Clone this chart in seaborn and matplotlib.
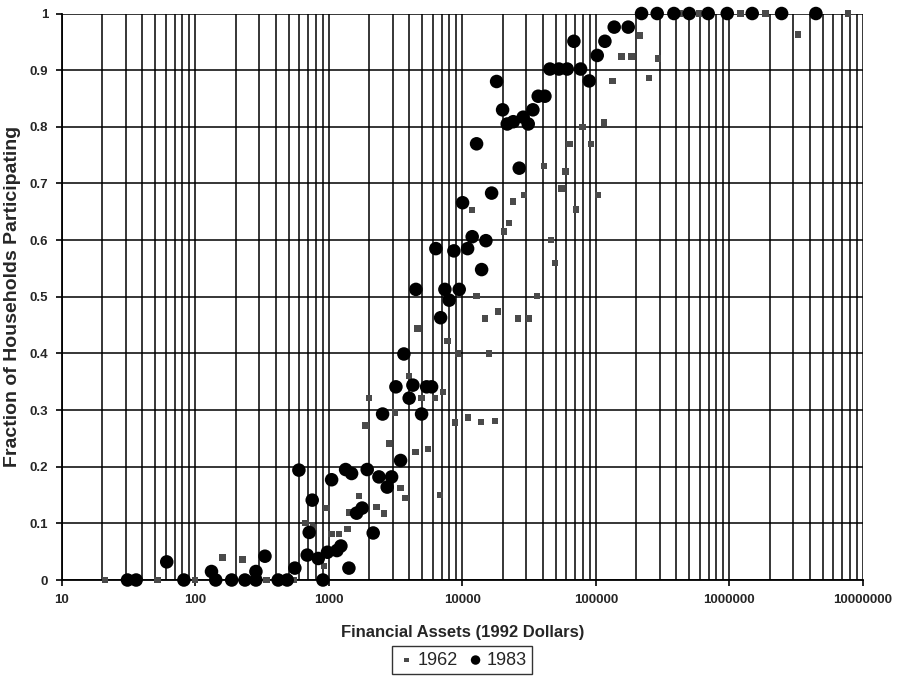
import matplotlib
matplotlib.use("Agg")
import matplotlib.pyplot as plt
import matplotlib.ticker as mticker
import seaborn as sns
import pandas as pd

# 1962 survey (small grey squares)
assets_1962 = [21, 52, 99, 160, 226, 341, 541, 667, 768, 918, 961, 1048, 1194, 1376, 1419,
               1687, 1876, 2004, 2277, 2596, 2830, 3120, 3443, 3754, 3992, 4460, 4617, 4946,
               5543, 6223, 6781, 7181, 7746, 8790, 9304, 11050, 11840, 12770, 13770, 14750,
               15880, 17500, 18540, 20460, 22430, 24030, 26180, 28890, 31490, 36310, 41000,
               46030, 49320, 55340, 59300, 63530, 70800, 79400, 91800, 104000, 114800, 133400,
               155900, 185000, 213700, 250700, 293000, 425800, 594000, 1213000, 1866000,
               3275000, 7762000]
frac_1962 = [0, 0, 0, 0.040, 0.036, 0, 0, 0.101, 0.094, 0.025, 0.127, 0.081, 0.081, 0.090, 0.119,
             0.148, 0.273, 0.321, 0.129, 0.117, 0.241, 0.296, 0.162, 0.145, 0.360, 0.226, 0.444, 0.321,
             0.231, 0.321, 0.150, 0.332, 0.422, 0.278, 0.400, 0.287, 0.653, 0.501, 0.279, 0.462,
             0.400, 0.281, 0.474, 0.615, 0.630, 0.668, 0.462, 0.680, 0.462, 0.501, 0.731,
             0.600, 0.560, 0.691, 0.721, 0.770, 0.654, 0.800, 0.770, 0.680, 0.808, 0.881,
             0.924, 0.924, 0.961, 0.886, 0.921, 1, 1, 1, 1,
             0.963, 1]

# 1983 survey (large black circles)
assets_1983 = [31, 36, 61, 82, 132, 142, 187, 235, 284, 284, 332, 417, 487, 556, 596, 688, 712,
               750, 832, 902, 975, 1048, 1148, 1230, 1412, 1334, 1479, 1612, 1775, 1936, 2147,
               2370, 2525, 2733, 2949, 3177, 3443, 3646, 3992, 4258, 4484, 4946, 5395, 5878,
               6327, 6869, 7396, 7964, 8636, 9465, 10030, 10940, 11840, 12770, 13930, 15000,
               16550, 18040, 20000, 21670, 24030, 26650, 28530, 31120, 33730, 36970, 41500,
               45220, 52840, 60960, 68400, 76800, 89100, 102300, 116800, 137100, 174600,
               219800, 287700, 383800, 500000, 693400, 963000, 1482000, 2461000, 4446000]
frac_1983 = [0, 0, 0.032, 0, 0.015, 0, 0, 0, 0, 0.015, 0.042, 0, 0, 0.021, 0.194, 0.044, 0.084,
             0.141, 0.038, 0, 0.049, 0.177, 0.052, 0.060, 0.021, 0.195, 0.188, 0.118, 0.127, 0.195, 0.083,
             0.182, 0.293, 0.164, 0.182, 0.341, 0.211, 0.399, 0.321, 0.344, 0.513, 0.293, 0.341, 0.341,
             0.585, 0.463, 0.513, 0.494, 0.581, 0.513, 0.666, 0.585, 0.606, 0.770, 0.548, 0.599,
             0.683, 0.880, 0.830, 0.805, 0.809, 0.727, 0.817, 0.805, 0.830, 0.854, 0.854,
             0.902, 0.902, 0.902, 0.951, 0.902, 0.881, 0.926, 0.951, 0.976, 0.976,
             1, 1, 1, 1, 1, 1, 1, 1, 1]

df62 = pd.DataFrame({"assets": assets_1962, "frac": frac_1962})
df83 = pd.DataFrame({"assets": assets_1983, "frac": frac_1983})

sns.set_style("white")
plt.rcParams["font.family"] = ["Liberation Sans", "DejaVu Sans"]

fig = plt.figure(figsize=(8.97, 6.76), dpi=100)
ax = fig.add_axes([0.069, 0.142, 0.893, 0.838])

sns.scatterplot(data=df62, x="assets", y="frac", ax=ax, marker="s", s=22, color="#4a4a4a",
                edgecolor="none", label="1962", clip_on=False, zorder=3)
sns.scatterplot(data=df83, x="assets", y="frac", ax=ax, marker="o", s=95, color="black",
                edgecolor="none", label="1983", clip_on=False, zorder=4)

ax.set_xscale("log")
ax.set_xlim(10, 1e7)
ax.set_ylim(0, 1)
ax.set_yticks([i / 10 for i in range(11)])
ax.yaxis.set_major_formatter(mticker.FuncFormatter(lambda v, p: "0" if v == 0 else ("1" if v == 1 else f"{v:.1f}")))
ax.xaxis.set_major_locator(mticker.LogLocator(base=10))
ax.xaxis.set_minor_locator(mticker.LogLocator(base=10, subs=range(2, 10)))
ax.xaxis.set_major_formatter(mticker.FuncFormatter(lambda v, p: f"{int(round(v))}"))
ax.xaxis.set_minor_formatter(mticker.NullFormatter())

ax.grid(True, which="major", axis="both", color="black", linewidth=1.1)
ax.grid(True, which="minor", axis="x", color="black", linewidth=1.1)
ax.set_axisbelow(True)

for sp in ax.spines.values():
    sp.set_visible(False)
ax.spines["left"].set_visible(True)
ax.spines["bottom"].set_visible(True)
ax.spines["left"].set_color("black")
ax.spines["bottom"].set_color("black")
ax.spines["left"].set_linewidth(1.3)
ax.spines["bottom"].set_linewidth(1.3)

ax.tick_params(axis="both", which="major", direction="out", length=4, width=1.2, color="black",
               labelsize=9.5, pad=6, bottom=True, left=True)
ax.tick_params(axis="x", which="minor", length=0)
for lab in ax.get_xticklabels() + ax.get_yticklabels():
    lab.set_fontweight("bold")

ax.set_xlabel("Financial Assets (1992 Dollars)", fontsize=12, fontweight="bold", labelpad=14)
ax.set_ylabel("Fraction of Households Participating", fontsize=14, fontweight="bold", labelpad=6)

ax.get_legend().remove()
handles, labels = ax.get_legend_handles_labels()
leg = fig.legend(handles, labels, loc="lower center", bbox_to_anchor=(0.515, 0.0), ncol=2,
                 frameon=True, fancybox=False, fontsize=13, handletextpad=0.1, columnspacing=0.5,
                 handlelength=1.0, borderpad=0.3, borderaxespad=0.1, markerscale=0.7)
leg.get_frame().set_edgecolor("black")
leg.get_frame().set_linewidth(1.0)

fig.savefig("out.png", dpi=100)
